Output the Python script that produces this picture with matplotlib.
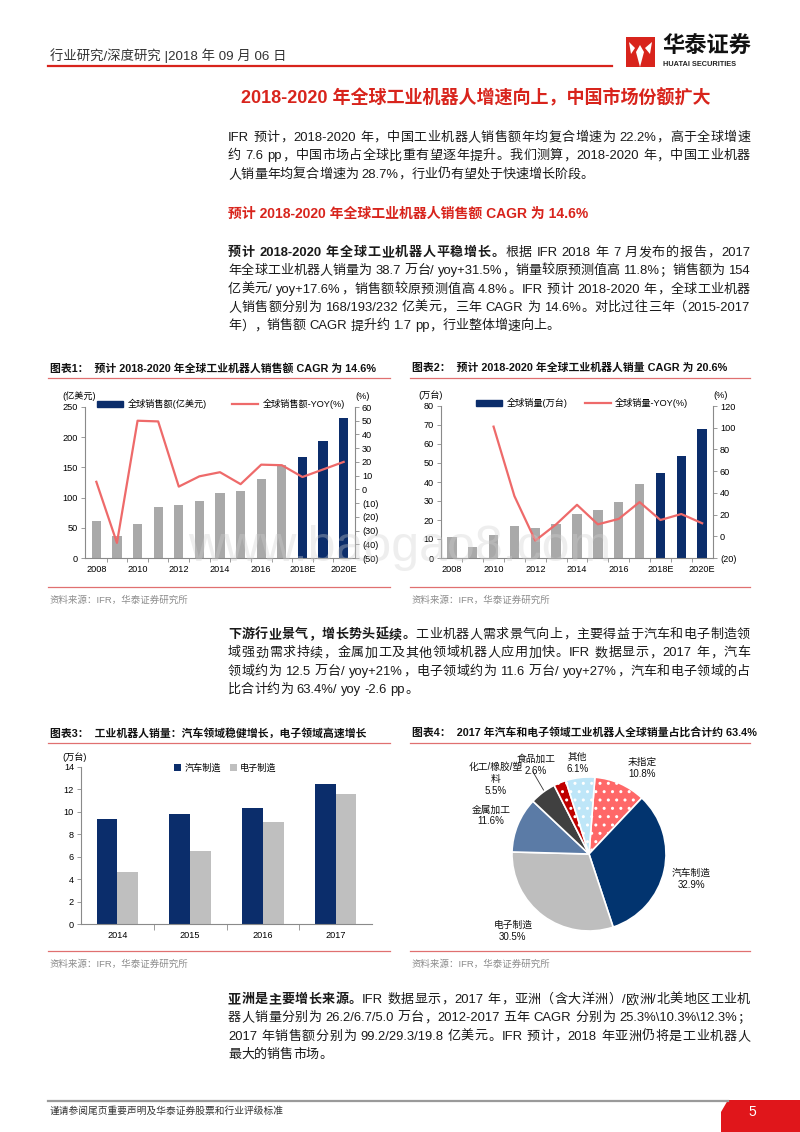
import re
import matplotlib
matplotlib.use("Agg")
import matplotlib.pyplot as plt
from matplotlib.patches import Patch, Rectangle, Polygon
from matplotlib.lines import Line2D
from matplotlib.ticker import FuncFormatter
import numpy as np

plt.rcParams['font.family'] = ['Liberation Sans', 'Noto Sans CJK SC']
plt.rcParams['axes.unicode_minus'] = False

# ---------------- data ----------------
years = ['2008', '2009', '2010', '2011', '2012', '2013', '2014',
         '2015', '2016', '2017', '2018E', '2019E', '2020E']
is_forecast = [False] * 10 + [True] * 3
sales_value = [62, 37, 57, 85, 87, 95, 108, 111, 131, 154, 168, 193, 232]          # 亿美元
sales_value_yoy = [5.5, -39, 50, 49.5, 2, 9.5, 12.5, 3.8, 18, 17.6, 9, 14.5, 20]    # %
sales_units = [11.3, 6.0, 12.0, 16.6, 15.9, 17.8, 22.9, 25.4, 29.4, 38.7, 44.5, 53.8, 68.0]  # 万台
sales_units_yoy = [np.nan, np.nan, 101, 37, -4, 11, 29, 11, 16, 31.5, 15, 20.5, 12]   # %

seg_years = ['2014', '2015', '2016', '2017']
auto_units = [9.4, 9.8, 10.3, 12.5]
elec_units = [4.6, 6.5, 9.1, 11.6]

pie_labels = ['未指定', '汽车制造', '电子制造', '金属加工', '化工/橡胶/塑\n料', '食品加工', '其他']
pie_share = [10.8, 32.9, 30.5, 11.6, 5.5, 2.6, 6.1]

# ---------------- style ----------------
NAVY = '#0B2D6B'
GRAY_BAR = '#A9A9A9'
LIGHT_GRAY = '#BFBFBF'
LINE_RED = '#EE6A6A'
RED = '#D8241C'
TEXT = '#1a1a1a'
AXIS = '#8a8a8a'
pie_colors = ['#FF6868', '#02346F', '#BEBEBE', '#5B7BA6', '#404040', '#C00000', '#BEE6F8']
pie_hatch = ['..', '', '', '', '', '..', '..']
pie_label_xy = [(0.69, 1.12), (1.33, -0.32), (-0.99, -1.0), (-1.27, 0.5),
                (-1.21, 0.98), (-0.69, 1.16), (-0.15, 1.18)]

W, H = 800, 1132
BODY = 9.4
fig = plt.figure(figsize=(8, 11.32), dpi=100)
renderer = fig.canvas.get_renderer()


def put(x, y, s, size=BODY, color=TEXT, weight='normal', ha='left', va='center', **kw):
    return fig.text(x / W, 1 - y / H, s, fontsize=size, color=color,
                    fontweight=weight, ha=ha, va=va, **kw)


def split_tokens(s, weight):
    # CJK chars one by one, ascii words kept whole, spaces remembered as gaps
    out, gap = [], 0
    for m in re.finditer(r'[\x21-\x7e]+| +|[^\x00-\x7f]', s):
        tok = m.group()
        if tok.startswith(' '):
            gap += len(tok)
        else:
            out.append((tok, gap, weight))
            gap = 0
    return out


def text_line(x, y, parts, x_right=750, justify=True, size=BODY):
    if isinstance(parts, str):
        parts = [(parts, 'normal')]
    toks = []
    for s, w in parts:
        toks += split_tokens(s, w)
    space = 0.278 * size * 100 / 72
    arts = [put(x, y, t, size=size, weight=w) for t, g, w in toks]
    widths = [a.get_window_extent(renderer).width for a in arts]
    natural = sum(widths) + sum(g for _, g, _ in toks) * space
    extra = (x_right - x - natural) / (len(toks) - 1) if justify and len(toks) > 1 else 0
    cx = x
    for i, (a, (t, g, w)) in enumerate(zip(arts, toks)):
        if i > 0:
            cx += g * space + extra
        a.set_x(cx / W)
        cx += widths[i]


def paragraph(x, y0, lines, step=18.3):
    for i, line in enumerate(lines):
        text_line(x, y0 + step * i, line, justify=(i < len(lines) - 1))


def hline(x0, x1, y, color, lw=1.0):
    fig.add_artist(Line2D([x0 / W, x1 / W], [1 - y / H, 1 - y / H],
                          transform=fig.transFigure, color=color, lw=lw))


def axes_at(x0, y0, x1, y1):
    return fig.add_axes([x0 / W, 1 - y1 / H, (x1 - x0) / W, (y1 - y0) / H])


def style(ax, sides):
    for s in ['top', 'bottom', 'left', 'right']:
        ax.spines[s].set_visible(s in sides)
        ax.spines[s].set_color(AXIS)
        ax.spines[s].set_linewidth(0.8)
    ax.tick_params(axis='both', which='both', labelsize=6.6, colors=AXIS,
                   labelcolor='black', width=0.6, length=3, pad=2)
    ax.patch.set_alpha(0)


pct_fmt = FuncFormatter(lambda v, p: f'({abs(int(v))})' if v < 0 else f'{int(v)}')

# ---------------- header ----------------
put(50, 56, '行业研究/深度研究 |2018 年 09 月 06 日', size=9.6, color='#333333')
hline(48, 612, 66, RED, lw=1.6)
fig.add_artist(Rectangle((626 / W, 1 - 67 / H), 29 / W, 30 / H, transform=fig.transFigure,
                         color=RED, lw=0))
for pts in ([(640, 45), (644, 52), (640, 67), (636, 52)],
            [(629, 42), (635, 48), (631, 54)],
            [(652, 42), (645, 48), (650, 54)]):
    fig.add_artist(Polygon([(px / W, 1 - py / H) for px, py in pts], closed=True,
                           transform=fig.transFigure, color='white', lw=0))
put(662, 47, '华泰证券', size=16, color='#111111', weight='bold')
put(663, 64, 'HUATAI SECURITIES', size=5.3, color='#222222', weight='bold')

put(476, 98, '2018-2020 年全球工业机器人增速向上，中国市场份额扩大',
    size=13, color=RED, weight='bold', ha='center')

# ---------------- body text ----------------
LX = 228
paragraph(LX, 138, [
    'IFR 预计，2018-2020 年，中国工业机器人销售额年均复合增速为 22.2%，高于全球增速',
    '约 7.6 pp，中国市场占全球比重有望逐年提升。我们测算，2018-2020 年，中国工业机器',
    '人销量年均复合增速为 28.7%，行业仍有望处于快速增长阶段。'])

put(LX, 214, '预计 2018-2020 年全球工业机器人销售额 CAGR 为 14.6%', size=10, color=RED, weight='bold')

paragraph(LX, 253, [
    [('预计 2018-2020 年全球工业机器人平稳增长。', 'bold'),
     ('根据 IFR 2018 年 7 月发布的报告，2017', 'normal')],
    '年全球工业机器人销量为 38.7 万台/ yoy+31.5%，销量较原预测值高 11.8%；销售额为 154',
    '亿美元/ yoy+17.6%，销售额较原预测值高 4.8%。IFR 预计 2018-2020 年，全球工业机器',
    '人销售额分别为 168/193/232 亿美元，三年 CAGR 为 14.6%。对比过往三年（2015-2017',
    '年），销售额 CAGR 提升约 1.7 pp，行业整体增速向上。'])

paragraph(LX, 635, [
    [('下游行业景气，增长势头延续。', 'bold'),
     ('工业机器人需求景气向上，主要得益于汽车和电子制造领', 'normal')],
    '域强劲需求持续，金属加工及其他领域机器人应用加快。IFR 数据显示，2017 年，汽车',
    '领域约为 12.5 万台/ yoy+21%，电子领域约为 11.6 万台/ yoy+27%，汽车和电子领域的占',
    '比合计约为 63.4%/ yoy -2.6 pp。'])

paragraph(LX, 1000, [
    [('亚洲是主要增长来源。', 'bold'),
     ('IFR 数据显示，2017 年，亚洲（含大洋洲）/欧洲/北美地区工业机', 'normal')],
    '器人销量分别为 26.2/6.7/5.0 万台，2012-2017 五年 CAGR 分别为 25.3%\\10.3%\\12.3%；',
    '2017 年销售额分别为 99.2/29.3/19.8 亿美元。IFR 预计，2018 年亚洲仍将是工业机器人',
    '最大的销售市场。'])

# ---------------- chart frames ----------------
TITLE_RED = '#E07070'
for x0, x1, ytitle, ybot, title in [
        (48, 390, 368, 587, '图表1：  预计 2018-2020 年全球工业机器人销售额 CAGR 为 14.6%'),
        (410, 750, 368, 587, '图表2：  预计 2018-2020 年全球工业机器人销量 CAGR 为 20.6%'),
        (48, 390, 733, 951, '图表3：  工业机器人销量：汽车领域稳健增长，电子领域高速增长'),
        (410, 750, 733, 951, '图表4：  2017 年汽车和电子领域工业机器人全球销量占比合计约 63.4%')]:
    put(x0 + 2, ytitle, title, size=7.8, weight='bold', color='#111111')
    hline(x0, x1, ytitle + 10, TITLE_RED, lw=0.9)
    hline(x0, x1, ybot, TITLE_RED, lw=0.9)
    put(x0 + 2, ybot + 13, '资料来源：IFR，华泰证券研究所', size=6.8, color='#8c8c8c')


def bar_line_chart(box, values, yoy, ylim, ystep, y2lim, y2step, xlim,
                   unit, bar_label, line_label, legend_anchor, colspace):
    ax = axes_at(*box)
    x = np.arange(len(years))
    colors = [NAVY if f else GRAY_BAR for f in is_forecast]
    ax.bar(x, values, width=0.45, color=colors, zorder=2)
    ax.set_ylim(*ylim)
    ax.set_yticks(np.arange(ylim[0], ylim[1] + 1, ystep))
    ax.set_xlim(*xlim)
    ax.set_xticks(x[::2])
    ax.set_xticklabels(years[::2])
    ax.set_xticks(np.arange(0.5, len(years) - 1, 1), minor=True)
    style(ax, ['left', 'bottom'])
    ax.tick_params(axis='x', which='major', length=0, pad=5)
    ax2 = ax.twinx()
    ax2.plot(x, yoy, color=LINE_RED, lw=1.6, zorder=3)
    ax2.set_ylim(*y2lim)
    ax2.set_yticks(np.arange(y2lim[0], y2lim[1] + 1, y2step))
    ax2.yaxis.set_major_formatter(pct_fmt)
    style(ax2, ['right'])
    ax.text(-0.085, 1.04, unit, transform=ax.transAxes, fontsize=6.6, ha='left', va='bottom')
    ax2.text(1.0, 1.04, '(%)', transform=ax2.transAxes, fontsize=6.6, ha='left', va='bottom')
    handles = [Patch(color=NAVY), Line2D([], [], color=LINE_RED, lw=1.6)]
    ax2.legend(handles, [bar_label, line_label], ncol=2, frameon=False, loc='center left',
               bbox_to_anchor=legend_anchor, fontsize=6.6, handlelength=2.8,
               handleheight=0.7, handletextpad=0.5, columnspacing=colspace,
               borderaxespad=0, borderpad=0)
    return ax, ax2


bar_line_chart((85, 407, 355, 558), sales_value, sales_value_yoy, (0, 250), 50, (-50, 60), 10,
               (-0.55, 12.55), '(亿美元)', '全球销售额(亿美元)', '全球销售额-YOY(%)',
               (0.045, 1.02), 2.8)
bar_line_chart((441, 406, 713, 558), sales_units, sales_units_yoy, (0, 80), 10, (-20, 120), 20,
               (-0.52, 12.52), '(万台)', '全球销量(万台)', '全球销量-YOY(%)',
               (0.13, 1.02), 1.9)

# ---------------- chart 3: grouped bars ----------------
ax3 = axes_at(81, 767, 372, 924)
xs = np.arange(len(seg_years))
bw = 0.285
ax3.bar(xs - bw / 2, auto_units, width=bw, color=NAVY, label='汽车制造', zorder=2)
ax3.bar(xs + bw / 2, elec_units, width=bw, color=LIGHT_GRAY, label='电子制造', zorder=2)
ax3.set_xlim(-0.5, len(seg_years) - 0.5)
ax3.set_ylim(0, 14)
ax3.set_yticks(range(0, 15, 2))
ax3.set_xticks(xs)
ax3.set_xticklabels(seg_years)
ax3.set_xticks(np.arange(0.5, len(seg_years) - 0.5, 1), minor=True)
style(ax3, ['left', 'bottom'])
ax3.tick_params(axis='x', which='major', length=0, pad=5)
ax3.tick_params(axis='x', which='minor', length=4)
ax3.text(-0.065, 1.035, '(万台)', transform=ax3.transAxes, fontsize=6.6, ha='left', va='bottom')
ax3.legend(ncol=2, frameon=False, loc='center left', bbox_to_anchor=(0.32, 0.995),
           fontsize=6.6, handlelength=0.8, handleheight=0.8, handletextpad=0.3,
           columnspacing=1.0, borderaxespad=0, borderpad=0)

# ---------------- chart 4: pie ----------------
ax4 = axes_at(512, 777, 666, 931)
wedges, _ = ax4.pie(pie_share, colors=pie_colors, startangle=85.6, counterclock=False,
                    wedgeprops=dict(edgecolor='white', linewidth=1.2))
for w, h in zip(wedges, pie_hatch):
    if h:
        w.set_hatch(h)
ax4.set_xlim(-1, 1)
ax4.set_ylim(-1, 1)
ax4.set_aspect('equal')
ax4.axis('off')
for (lx, ly), name, share in zip(pie_label_xy, pie_labels, pie_share):
    ax4.text(lx, ly, f'{name}\n{share}%', ha='center', va='center', fontsize=7,
             linespacing=1.25, color='#111111', clip_on=False)
ax4.plot([-0.73, -0.59], [1.07, 0.83], color='#333333', lw=0.6, clip_on=False)

# ---------------- watermark ----------------
put(400, 548, 'www.baogao8.com', size=36, color='#cfcfcf', ha='center', alpha=0.35, zorder=10)

# ---------------- footer ----------------
hline(48, 728, 1101, '#9a9a9a', lw=1.6)
fig.add_artist(Polygon([(px / W, 1 - py / H) for px, py in
                        [(728, 1100), (800, 1100), (800, 1132), (721, 1132), (721, 1112)]],
                       closed=True, transform=fig.transFigure, color='#E0161B', lw=0))
put(50, 1111, '谨请参阅尾页重要声明及华泰证券股票和行业评级标准', size=7, color='#333333')
put(752, 1112, '5', size=10, color='white', ha='center')

fig.savefig('out.png', dpi=100)
